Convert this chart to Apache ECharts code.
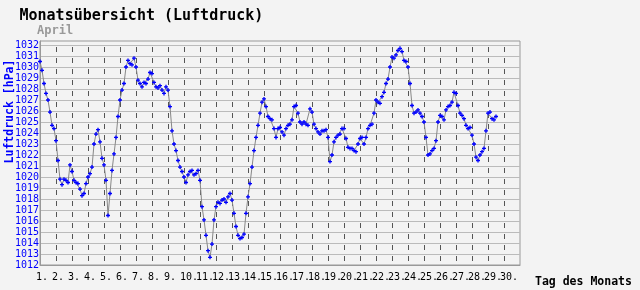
<!DOCTYPE html>
<html><head><meta charset="utf-8">
<script src="https://cdn.jsdelivr.net/npm/echarts@6/dist/echarts.min.js"></script>
<style>html,body{margin:0;padding:0;background:#f3f3f3}#c{width:640px;height:290px}</style>
</head><body><div id="c"></div>
<script>
const titleText = 'Monatsübersicht (Luftdruck)';
const subtitleText = 'April';
const yAxisName = 'Luftdruck [hPa]';
const xAxisName = 'Tag des Monats';
const dayLabels = ['1.','2.','3.','4.','5.','6.','7.','8.','9.','10.','11.','12.','13.','14.','15.','16.','17.','18.','19.','20.','21.','22.','23.','24.','25.','26.','27.','28.','29.','30.'];
const yMin = 1012;
const yTop = 1032;
const stepHours = 3;
// pressure readings every 3 hours from 1 April 00:00
const pressure = [
 1030.5,1029.7,1028.5,1027.6,1027.0,1025.9,1024.7,1024.4,
 1023.3,1021.5,1019.8,1019.3,1019.8,1019.7,1019.5,1021.1,
 1020.5,1019.7,1019.5,1019.4,1018.9,1018.3,1018.5,1019.4,
 1020.0,1020.3,1020.9,1023.0,1023.9,1024.3,1023.2,1021.7,
 1021.1,1019.7,1016.5,1018.5,1020.6,1022.1,1023.6,1025.5,
 1027.0,1027.9,1028.5,1030.0,1030.6,1030.3,1030.2,1030.8,
 1030.0,1028.8,1028.5,1028.2,1028.6,1028.5,1028.9,1029.5,
 1029.4,1028.6,1028.2,1028.1,1028.3,1027.9,1027.6,1028.2,
 1027.9,1026.4,1024.2,1023.0,1022.4,1021.5,1020.9,1020.5,
 1020.0,1019.5,1020.2,1020.5,1020.6,1020.2,1020.3,1020.6,
 1019.7,1017.3,1016.1,1014.7,1013.3,1012.7,1013.9,1016.1,
 1017.3,1017.7,1017.6,1017.9,1018.0,1017.7,1018.2,1018.5,
 1017.9,1016.7,1015.5,1014.7,1014.4,1014.5,1014.8,1016.7,
 1018.2,1019.4,1020.9,1022.4,1023.6,1024.7,1025.8,1026.8,
 1027.1,1026.4,1025.5,1025.3,1025.2,1024.4,1023.6,1024.4,
 1024.5,1024.1,1023.8,1024.4,1024.7,1024.8,1025.2,1026.4,
 1026.5,1025.8,1025.0,1024.8,1025.0,1024.8,1024.7,1026.2,
 1025.9,1024.8,1024.4,1024.1,1023.9,1024.2,1024.2,1024.3,
 1023.6,1021.4,1022.0,1023.2,1023.6,1023.8,1023.9,1024.4,
 1024.4,1023.5,1022.7,1022.6,1022.6,1022.4,1022.3,1023.0,
 1023.5,1023.6,1023.0,1023.6,1024.4,1024.7,1024.8,1025.8,
 1027.0,1026.8,1026.7,1027.3,1027.7,1028.5,1028.9,1030.0,
 1030.9,1030.8,1031.1,1031.5,1031.7,1031.4,1030.6,1030.5,
 1030.0,1028.5,1026.5,1025.8,1025.9,1026.1,1025.8,1025.5,
 1025.0,1023.6,1022.0,1022.1,1022.4,1022.6,1023.3,1025.0,
 1025.6,1025.5,1025.2,1026.1,1026.4,1026.5,1026.8,1027.7,
 1027.6,1026.5,1025.8,1025.6,1025.3,1024.7,1024.4,1024.5,
 1023.8,1023.0,1021.8,1021.5,1022.0,1022.3,1022.6,1024.2,
 1025.8,1025.9,1025.3,1025.2,1025.5
];

const mono = 'DejaVu Sans Mono';
const seriesData = pressure.map((v, i) => [i * stepHours / 24, v]);
const chart = echarts.init(document.getElementById('c'), null, {renderer: 'canvas'});
chart.setOption({
  animation: false,
  backgroundColor: '#f3f3f3',
  title: [
    {text: titleText, left: 19.5, top: 9, padding: 0,
     textStyle: {fontFamily: mono, fontSize: 15, fontWeight: 'bold', color: '#000'}},
    {text: subtitleText, left: 37, top: 25, padding: 0,
     textStyle: {fontFamily: mono, fontSize: 12, fontWeight: 'bold', color: '#999'}}
  ],
  grid: [
    {left: 40, top: 41, width: 480, height: 224, show: true, borderColor: '#999', borderWidth: 1,
     backgroundColor: 'transparent', containLabel: false, outerBoundsMode: 'none'},
    {left: 36, top: 41, width: 480, height: 224, show: false, containLabel: false, outerBoundsMode: 'none'}
  ],
  xAxis: [
    {type: 'value', gridIndex: 0, min: 0, max: 30, interval: 1,
     axisLine: {show: true, lineStyle: {color: '#999', width: 1}},
     axisTick: {show: false}, axisLabel: {show: false},
     splitLine: {show: true, showMinLine: false, showMaxLine: false,
       lineStyle: {color: '#555', width: 1, type: [5, 6], dashOffset: 5}},
     name: xAxisName, nameLocation: 'end', nameGap: 15, nameMoveOverlap: false,
     nameTextStyle: {fontFamily: mono, fontSize: 11.5, fontWeight: 'bold', color: '#000',
       verticalAlign: 'top', align: 'left', padding: [11, 0, 0, 0]}},
    {type: 'value', gridIndex: 1, min: 0, max: 30, interval: 1,
     axisLine: {show: false}, axisTick: {show: false}, splitLine: {show: false},
     axisLabel: {show: true, align: 'left', margin: 7, color: '#000', fontFamily: mono, fontSize: 10,
       showMaxLabel: false, formatter: v => dayLabels[Math.round(v)] || ''}}
  ],
  yAxis: [
    {type: 'value', gridIndex: 0, min: yMin, max: yMin + 224 / 11, interval: 1,
     axisLine: {show: true, lineStyle: {color: '#999', width: 1}},
     axisTick: {show: false},
     axisLabel: {color: '#0000ff', fontFamily: mono, fontSize: 10, margin: 1,
       formatter: v => (Number.isInteger(v) && v <= yTop) ? String(v) : ''},
     splitLine: {show: true, showMinLine: false, showMaxLine: false, lineStyle: {color: '#bbb', width: 1}},
     name: yAxisName, nameLocation: 'middle', nameGap: 24, nameMoveOverlap: false,
     nameTextStyle: {fontFamily: mono, fontSize: 11.5, fontWeight: 'bold', color: '#0000ff', padding: [0, 0, 0, 83]}},
    {type: 'value', gridIndex: 1, show: false, min: 0, max: 1}
  ],
  series: [{
    type: 'line', xAxisIndex: 0, yAxisIndex: 0, data: seriesData,
    lineStyle: {color: '#888', width: 1},
    showSymbol: true, showAllSymbol: true,
    symbol: 'path://M1,0H2V1H3V2H2V3H1V2H0V1H1Z', symbolSize: 4,
    itemStyle: {color: '#0000ff'},
    emphasis: {disabled: true}
  }]
});
</script></body></html>
